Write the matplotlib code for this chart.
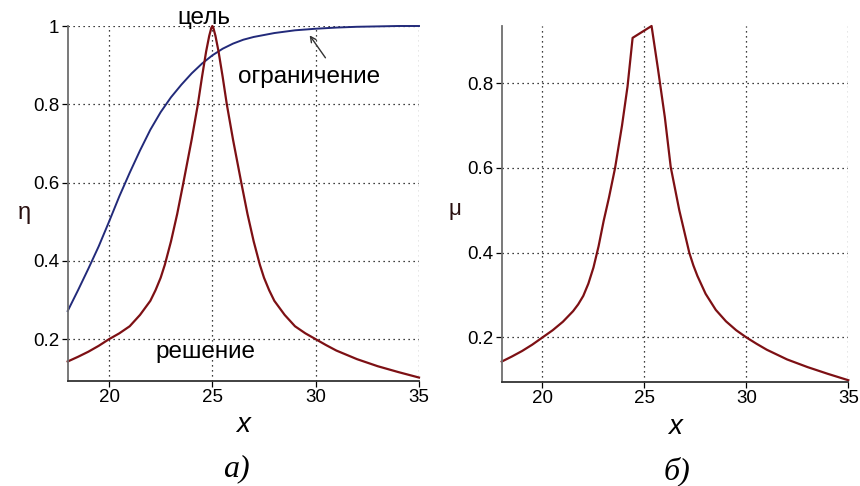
import matplotlib
matplotlib.use("Agg")
import matplotlib.pyplot as plt

plt.rcParams['font.family'] = ['Liberation Sans', 'DejaVu Sans']

# goal ("цель") curve, left panel
goal_x = [18, 18.5, 19, 19.5, 20, 20.5, 21, 21.5, 22, 22.25, 22.5, 22.7, 23, 23.3, 23.6, 24, 24.3, 24.5, 24.7, 24.85, 24.95, 25,
          25.05, 25.15, 25.3, 25.5, 25.7, 26, 26.4, 26.7, 27, 27.3, 27.5, 27.75, 28, 28.5, 29, 29.5, 30, 30.5, 31, 32, 33, 34, 35]
goal_y = [0.143, 0.155, 0.168, 0.183, 0.2, 0.215, 0.233, 0.262, 0.298, 0.325, 0.357, 0.39, 0.45, 0.52, 0.6, 0.71, 0.8, 0.87, 0.935, 0.975, 0.995, 1.0,
          0.995, 0.975, 0.935, 0.87, 0.8, 0.71, 0.6, 0.52, 0.45, 0.39, 0.357, 0.325, 0.298, 0.262, 0.233, 0.215, 0.2, 0.185, 0.171, 0.149, 0.131, 0.116, 0.102]

# constraint ("ограничение") curve
cons_x = [18, 18.5, 19, 19.5, 20, 20.5, 21, 21.5, 22, 22.5, 23, 23.5, 24, 24.5, 25, 25.5,
          26, 26.5, 27, 27.5, 28, 29, 30, 31, 32, 33, 34, 35]
cons_y = [0.272, 0.325, 0.38, 0.437, 0.5, 0.565, 0.625, 0.682, 0.735, 0.78, 0.818, 0.85, 0.879, 0.904, 0.925, 0.942,
          0.955, 0.965, 0.972, 0.977, 0.982, 0.989, 0.993, 0.996, 0.998, 0.999, 1.0, 1.0]

# solution mu, right panel
mu_x = [18, 18.5, 19, 19.5, 20, 20.5, 21, 21.5, 21.75, 22, 22.25, 22.5, 22.75, 23.0, 23.26, 23.56, 23.9, 24.17, 24.42,
        25.35, 25.66, 26.0, 26.29, 26.71, 27.2, 27.4, 27.6, 28, 28.5, 29, 29.5, 30, 30.5, 31, 32, 33, 34, 35]
mu_y = [0.143, 0.155, 0.168, 0.183, 0.2, 0.217, 0.237, 0.262, 0.278, 0.298, 0.327, 0.365, 0.415, 0.475, 0.53, 0.6, 0.7, 0.792, 0.907,
        0.935, 0.835, 0.72, 0.602, 0.5, 0.4, 0.37, 0.345, 0.303, 0.265, 0.238, 0.217, 0.2, 0.185, 0.171, 0.148, 0.13, 0.114, 0.099]

x_ticks = [20, 25, 30, 35]
y_ticks = [0.2, 0.4, 0.6, 0.8, 1.0]

red = '#7d1014'
blue = '#222a7a'

fig = plt.figure(figsize=(8.6, 4.86), dpi=100)
ax1 = fig.add_axes([0.0787, 0.2167, 0.4085, 0.7298])
ax2 = fig.add_axes([0.5834, 0.2146, 0.403, 0.7319])

def style(ax, ylo, yhi, yt):
    ax.set_xlim(18, 35)
    ax.set_ylim(ylo, yhi)
    ax.set_xticks(x_ticks)
    ax.set_xticklabels([str(t) for t in x_ticks])
    ax.set_yticks(yt)
    ax.set_yticklabels(['1' if t == 1.0 else '%.1f' % t for t in yt])
    ax.grid(True, linestyle=(0, (1, 3)), color='black', linewidth=0.9)
    for s in ['top', 'right']:
        ax.spines[s].set_visible(False)
    ax.spines['left'].set_color('#6e6e6e')
    ax.spines['bottom'].set_color('#333333')
    ax.spines['left'].set_linewidth(1.3)
    ax.spines['bottom'].set_linewidth(1.3)
    ax.tick_params(direction='out', length=4, width=0.9, labelsize=13.5, pad=2)

style(ax1, 0.094, 1.0, y_ticks)
style(ax2, 0.0955, 0.935, y_ticks[:4])

ax1.plot(cons_x, cons_y, color=blue, lw=1.4, clip_on=False)
ax1.plot(goal_x, goal_y, color=red, lw=1.6, clip_on=False)
ax2.plot(mu_x, mu_y, color=red, lw=1.6, clip_on=False)

ax1.text(24.6, 0.993, 'цель', fontsize=17.5, ha='center', va='bottom')
ax1.text(29.68, 0.87, 'ограничение', fontsize=17.5, ha='center', va='center')
ax1.text(24.67, 0.168, 'решение', fontsize=17.5, ha='center', va='center')
ax1.annotate('', xy=(29.63, 0.982), xytext=(30.55, 0.913),
             arrowprops=dict(arrowstyle='->', color='#333333', lw=1.0))

fig.text(0.028, 0.562, 'η', fontsize=17, ha='center', va='center', color='#2a1010')
fig.text(0.529, 0.568, 'μ', fontsize=16, ha='center', va='center', color='#2a1010')
fig.text(0.283, 0.125, 'x', fontsize=20, style='italic', ha='center', va='center')
fig.text(0.785, 0.121, 'x', fontsize=20, style='italic', ha='center', va='center')
fig.text(0.275, 0.035, 'а)', fontsize=23, style='italic', family='Liberation Serif', ha='center', va='center')
fig.text(0.787, 0.03, 'б)', fontsize=23, style='italic', family='Liberation Serif', ha='center', va='center')

fig.savefig('out.png', dpi=100)
